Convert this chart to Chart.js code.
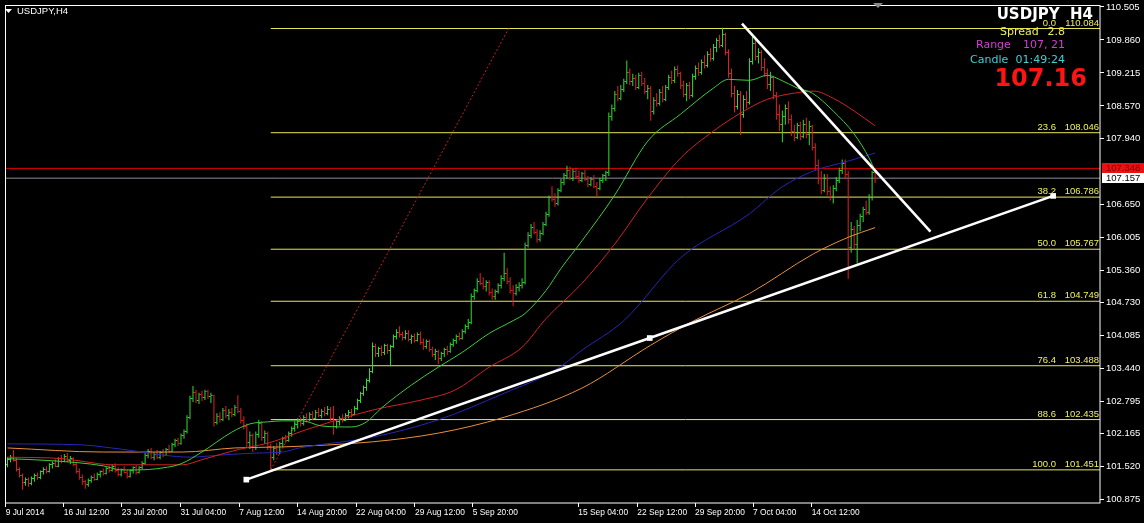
<!DOCTYPE html>
<html>
<head>
<meta charset="utf-8">
<title>USDJPY,H4</title>
<script src="https://cdn.jsdelivr.net/npm/chart.js@4.4.1/dist/chart.umd.min.js"></script>
<style>
  html, body { margin: 0; padding: 0; background: #000; }
  #wrap { width: 1144px; height: 523px; }
</style>
</head>
<body>
<div id="wrap"><canvas id="chart" width="1144" height="523"></canvas></div>
<script>
// H4 bars, one row per bar: [open, high, low, close]
const candles = [
  [101.55,101.70,101.50,101.66],[101.66,101.74,101.60,101.70],[101.70,101.84,101.62,101.64],[101.64,101.68,101.42,101.46],[101.46,101.50,101.30,101.34],
  [101.34,101.38,101.06,101.20],[101.20,101.30,101.14,101.26],[101.26,101.30,101.12,101.18],[101.18,101.32,101.15,101.29],[101.29,101.38,101.22,101.34],
  [101.34,101.40,101.26,101.30],[101.30,101.44,101.27,101.41],[101.41,101.50,101.36,101.46],[101.46,101.52,101.38,101.42],[101.42,101.58,101.40,101.55],
  [101.55,101.62,101.48,101.58],[101.58,101.66,101.50,101.52],[101.52,101.70,101.50,101.67],[101.67,101.74,101.58,101.62],[101.62,101.76,101.60,101.72],
  [101.72,101.78,101.60,101.64],[101.64,101.72,101.56,101.68],[101.68,101.70,101.52,101.55],[101.55,101.60,101.38,101.42],[101.42,101.48,101.26,101.30],
  [101.30,101.36,101.16,101.22],[101.22,101.26,101.08,101.16],[101.16,101.28,101.12,101.25],[101.25,101.34,101.20,101.30],[101.30,101.38,101.24,101.27],
  [101.27,101.40,101.25,101.37],[101.37,101.44,101.30,101.41],[101.41,101.48,101.34,101.38],[101.38,101.50,101.36,101.47],[101.47,101.54,101.40,101.44],
  [101.44,101.56,101.42,101.52],[101.52,101.58,101.40,101.43],[101.43,101.50,101.32,101.36],[101.36,101.48,101.32,101.45],[101.45,101.52,101.38,101.40],
  [101.40,101.46,101.28,101.33],[101.33,101.46,101.30,101.43],[101.43,101.52,101.38,101.49],[101.49,101.54,101.36,101.40],[101.40,101.52,101.38,101.50],
  [101.50,101.62,101.46,101.58],[101.58,101.78,101.55,101.74],[101.74,101.86,101.68,101.82],[101.82,101.88,101.66,101.70],[101.70,101.80,101.64,101.76],
  [101.76,101.84,101.66,101.69],[101.69,101.82,101.66,101.79],[101.79,101.86,101.70,101.74],[101.74,101.88,101.72,101.85],[101.85,101.94,101.78,101.82],
  [101.82,101.98,101.80,101.95],[101.95,102.06,101.90,102.02],[102.02,102.08,101.92,101.96],[101.96,102.16,101.94,102.12],[102.12,102.24,102.06,102.20],
  [102.20,102.52,102.16,102.48],[102.48,102.90,102.44,102.84],[102.84,103.09,102.78,102.96],[102.96,103.02,102.76,102.80],[102.80,102.96,102.74,102.92],
  [102.92,103.00,102.80,102.86],[102.86,103.02,102.82,102.98],[102.98,103.02,102.84,102.88],[102.88,102.96,102.76,102.90],[102.90,102.92,102.30,102.38],
  [102.38,102.56,102.34,102.50],[102.50,102.58,102.38,102.44],[102.44,102.66,102.40,102.62],[102.62,102.70,102.46,102.52],[102.52,102.64,102.42,102.58],
  [102.58,102.66,102.48,102.54],[102.54,102.72,102.50,102.68],[102.68,102.91,102.56,102.60],[102.60,102.66,102.36,102.42],[102.42,102.50,102.24,102.30],
  [102.30,102.36,101.90,101.98],[101.98,102.20,101.86,102.12],[102.12,102.16,101.80,101.88],[101.88,102.20,101.84,102.14],[102.14,102.43,102.08,102.36],
  [102.36,102.40,102.02,102.08],[102.08,102.22,101.96,102.16],[102.16,102.20,101.84,101.90],[101.90,101.96,101.45,101.70],[101.70,101.92,101.64,101.86],
  [101.86,101.98,101.74,101.80],[101.80,102.00,101.76,101.96],[101.96,102.10,101.90,102.06],[102.06,102.14,101.98,102.02],[102.02,102.20,102.00,102.16],
  [102.16,102.30,102.10,102.26],[102.26,102.40,102.20,102.34],[102.34,102.46,102.26,102.40],[102.40,102.48,102.30,102.36],[102.36,102.52,102.32,102.48],
  [102.48,102.56,102.38,102.44],[102.44,102.58,102.40,102.54],[102.54,102.60,102.42,102.46],[102.46,102.62,102.44,102.58],[102.58,102.66,102.48,102.52],
  [102.52,102.64,102.46,102.60],[102.60,102.68,102.50,102.56],[102.56,102.70,102.52,102.64],[102.64,102.68,102.40,102.46],[102.46,102.70,102.14,102.30],
  [102.30,102.44,102.26,102.40],[102.40,102.50,102.32,102.46],[102.46,102.54,102.38,102.42],[102.42,102.56,102.40,102.52],[102.52,102.62,102.46,102.58],
  [102.58,102.64,102.48,102.54],[102.54,102.70,102.52,102.66],[102.66,102.84,102.62,102.80],[102.80,102.98,102.76,102.94],[102.94,103.10,102.90,103.06],
  [103.06,103.24,103.00,103.20],[103.20,103.44,103.16,103.38],[103.38,103.94,103.34,103.86],[103.86,103.92,103.66,103.72],[103.72,103.86,103.66,103.82],
  [103.82,103.88,103.68,103.74],[103.74,103.92,103.70,103.88],[103.88,103.92,103.72,103.78],[103.78,103.90,103.48,103.86],[103.86,104.10,103.84,104.06],
  [104.06,104.20,104.00,104.14],[104.14,104.26,104.04,104.10],[104.10,104.16,103.98,104.04],[104.04,104.18,104.00,104.12],[104.12,104.18,103.96,104.00],
  [104.00,104.10,103.92,104.06],[104.06,104.12,103.94,103.98],[103.98,104.14,103.96,104.10],[104.10,104.16,103.90,103.94],[103.94,104.02,103.80,103.86],
  [103.86,104.00,103.82,103.96],[103.96,104.00,103.76,103.80],[103.80,103.86,103.66,103.70],[103.70,103.82,103.60,103.76],[103.76,103.80,103.52,103.62],
  [103.62,103.76,103.58,103.72],[103.72,103.84,103.66,103.80],[103.80,103.88,103.70,103.76],[103.76,103.94,103.74,103.90],[103.90,104.02,103.86,103.98],
  [103.98,104.10,103.92,104.06],[104.06,104.14,103.98,104.02],[104.02,104.20,104.00,104.16],[104.16,104.30,104.12,104.26],[104.26,104.40,104.20,104.34],
  [104.34,104.90,104.30,104.84],[104.84,105.00,104.78,104.96],[104.96,105.20,104.92,105.14],[105.14,105.30,105.06,105.10],[105.10,105.22,104.98,105.04],
  [105.04,105.16,104.94,105.12],[105.12,105.16,104.86,104.92],[104.92,105.00,104.78,104.84],[104.84,104.98,104.78,104.94],[104.94,105.10,104.90,105.06],
  [105.06,105.26,105.00,105.20],[105.20,105.70,105.14,105.30],[105.30,105.40,105.08,105.14],[105.14,105.22,104.90,104.96],[104.96,105.06,104.65,104.90],
  [104.90,105.08,104.86,105.02],[105.02,105.12,104.94,105.06],[105.06,105.20,105.00,105.12],[105.12,105.90,105.08,105.84],[105.84,106.10,105.80,106.04],
  [106.04,106.26,105.98,106.20],[106.20,106.30,106.06,106.10],[106.10,106.16,105.90,105.96],[105.96,106.14,105.92,106.08],[106.08,106.30,106.04,106.26],
  [106.26,106.50,106.22,106.44],[106.44,106.82,106.40,106.78],[106.78,107.00,106.70,106.74],[106.74,106.86,106.60,106.66],[106.66,106.96,106.62,106.92],
  [106.92,107.14,106.88,107.08],[107.08,107.26,107.02,107.20],[107.20,107.40,107.14,107.30],[107.30,107.38,107.12,107.16],[107.16,107.34,107.10,107.28],
  [107.28,107.36,107.14,107.18],[107.18,107.30,107.06,107.12],[107.12,107.28,107.08,107.24],[107.24,107.32,107.10,107.14],[107.14,107.20,106.98,107.04],
  [107.04,107.18,107.00,107.14],[107.14,107.22,106.96,107.00],[107.00,107.08,106.80,106.96],[106.96,107.16,106.92,107.12],[107.12,107.24,107.06,107.20],
  [107.20,107.30,107.10,107.26],[107.26,108.44,107.20,108.36],[108.36,108.60,108.28,108.52],[108.52,108.86,108.46,108.80],[108.80,108.96,108.66,108.72],
  [108.72,108.98,108.68,108.90],[108.90,109.10,108.84,109.04],[109.04,109.46,109.00,109.22],[109.22,109.30,108.98,109.04],[109.04,109.20,108.96,109.10],
  [109.10,109.18,108.88,108.94],[108.94,109.22,108.90,109.16],[109.16,109.24,108.96,109.00],[109.00,109.12,108.80,108.86],[108.86,108.98,108.70,108.92],
  [108.92,108.96,108.28,108.46],[108.46,108.74,108.40,108.68],[108.68,108.82,108.56,108.62],[108.62,108.90,108.58,108.84],[108.84,108.96,108.64,108.70],
  [108.70,108.98,108.66,108.94],[108.94,109.18,108.88,109.12],[109.12,109.26,109.00,109.06],[109.06,109.34,109.02,109.28],[109.28,109.36,109.14,109.20],
  [109.20,109.24,108.90,108.96],[108.96,109.06,108.74,108.80],[108.80,109.02,108.66,108.96],[108.96,109.04,108.70,108.78],[108.78,109.20,108.74,109.14],
  [109.14,109.36,109.08,109.30],[109.30,109.42,109.16,109.22],[109.22,109.48,109.18,109.42],[109.42,109.56,109.30,109.36],[109.36,109.64,109.32,109.58],
  [109.58,109.70,109.44,109.50],[109.50,109.78,109.46,109.72],[109.72,109.90,109.62,109.84],[109.84,109.96,109.70,109.76],[109.76,110.10,109.72,109.96],
  [109.96,110.00,109.56,109.62],[109.62,109.68,109.12,109.20],[109.20,109.30,108.74,108.82],[108.82,108.96,108.44,108.56],[108.56,108.88,108.50,108.80],
  [108.80,108.86,108.00,108.40],[108.40,108.78,108.34,108.70],[108.70,108.86,108.52,108.64],[108.64,109.50,108.60,109.44],[109.44,109.92,109.38,109.80],
  [109.80,109.88,109.46,109.54],[109.54,109.70,109.40,109.62],[109.62,109.66,109.26,109.32],[109.32,109.50,109.14,109.20],[109.20,109.30,108.90,108.98],
  [108.98,109.24,108.86,109.12],[109.12,109.16,108.70,108.78],[108.78,108.84,108.30,108.40],[108.40,108.60,108.08,108.20],[108.20,108.48,107.86,108.36],
  [108.36,108.60,108.20,108.52],[108.52,108.66,108.22,108.30],[108.30,108.40,107.98,108.06],[108.06,108.20,107.88,107.96],[107.96,108.24,107.92,108.18],
  [108.18,108.26,107.90,107.98],[107.98,108.30,107.94,108.20],[108.20,108.34,107.94,108.02],[108.02,108.28,107.80,108.16],[108.16,108.20,107.70,107.76],
  [107.76,107.84,107.30,107.40],[107.40,107.52,107.04,107.16],[107.16,107.30,106.84,106.92],[106.92,107.24,106.88,107.16],[107.16,107.24,106.82,106.90],
  [106.90,107.00,106.72,106.80],[106.80,107.02,106.66,106.96],[106.96,107.18,106.90,107.12],[107.12,107.36,107.06,107.30],[107.30,107.52,107.24,107.44],
  [107.44,107.52,107.14,107.22],[107.22,107.30,105.19,105.80],[105.80,106.30,105.70,106.16],[106.16,106.22,105.76,105.86],[105.86,106.34,105.49,106.24],
  [106.24,106.46,106.12,106.40],[106.40,106.60,106.30,106.54],[106.54,106.72,106.44,106.48],[106.48,106.84,106.44,106.78],[106.78,107.30,106.72,107.26],
  [107.26,107.30,107.06,107.16]
];

// moving averages: [bar index, price]
const maFast = [[0,101.67],[15,101.63],[32,101.53],[38,101.45],[43,101.45],[52,101.49],[58,101.57],[65,101.80],[75,102.19],[81,102.35],
  [87,102.39],[92,102.41],[98.5,102.41],[105,102.31],[115,102.29],[120,102.39],[125,102.66],[135,103.11],[144,103.46],[152,103.75],
  [161,104.12],[169,104.37],[173,104.51],[180,104.96],[185,105.39],[192,105.93],[203,106.83],[214,107.88],[225,108.41],[236,108.92],
  [241,109.09],[248,109.07],[254,109.17],[258,109.09],[264,108.92],[269,108.82],[276,108.47],[283,108.02],[288,107.55],[290,107.30]];
const maMid = [[0,101.70],[18.5,101.67],[26,101.61],[35,101.55],[58.5,101.55],[65,101.65],[74,101.80],[81,101.90],[87.5,101.98],[99.5,102.23],
  [122,102.62],[138.5,102.82],[149.5,103.01],[161,103.46],[172,103.85],[180,104.41],[192,105.10],[203,105.87],[214,106.77],[225,107.55],
  [236,108.08],[245,108.43],[254,108.70],[263,108.82],[269.5,108.86],[276,108.72],[283,108.47],[290,108.18]];
const maSlow = [[0,101.96],[25,101.94],[32,101.90],[45,101.80],[52,101.74],[61,101.70],[71,101.74],[83,101.78],[92,101.80],[97.5,101.88],
  [122,102.09],[144,102.43],[166,102.95],[183,103.40],[192,103.79],[206,104.37],[225,105.60],[248,106.46],[258.5,106.97],[269.5,107.30],
  [281,107.49],[290,107.65]];
const maLong = [[0,101.88],[32,101.80],[58.5,101.80],[76,101.88],[92,101.90],[122,102.00],[144,102.17],[166,102.48],[192,103.05],[215,103.89],
  [229.5,104.37],[248,104.90],[269.5,105.68],[281,106.00],[290,106.19]];

// Fibonacci retracement
const fibLevels = ['0.0', '23.6', '38.2', '50.0', '61.8', '76.4', '88.6', '100.0'];
const fibPrices = [110.084, 108.046, 106.786, 105.767, 104.749, 103.488, 102.435, 101.451];
const fibAnchor = [[88, 101.451], [167.5, 110.084]];

// trend lines
const trendUp = [[79.83, 101.26], [214.67, 104.03], [349.5, 106.81]];
const trendDown = [[245.5, 110.18], [308.5, 106.11]];

const redLevel = 107.348;
const bidLevel = 107.157;

// axes
const yTicks = [110.505, 109.860, 109.215, 108.570, 107.940, 106.650, 106.005, 105.360, 104.730, 104.085, 103.440, 102.795, 102.165, 101.520, 100.875];
const xTickIdx = [-0.6, 18.8, 38.2, 57.8, 77.5, 96.8, 116.5, 136.2, 155.5, 190.8, 210.5, 229.8, 249.2, 268.8];
const xTickText = ['9 Jul 2014', '16 Jul 12:00', '23 Jul 20:00', '31 Jul 04:00', '7 Aug 12:00', '14 Aug 20:00', '22 Aug 04:00',
  '29 Aug 12:00', '5 Sep 20:00', '15 Sep 04:00', '22 Sep 12:00', '29 Sep 20:00', '7 Oct 04:00', '14 Oct 12:00'];

const X_MIN = -0.8333, X_MAX = 365.1667;
const Y_MIN = 100.803, Y_MAX = 110.544;

const UP = '#33dd33', DOWN = '#dd2222', FIB = '#e6e650', FIB_TEXT = '#f0f060';
const AXIS_FONT = { family: '"Liberation Sans", Arial, sans-serif', size: 9.5 };
const DATE_FONT = { family: '"Liberation Sans", Arial, sans-serif', size: 8.4 };

function tickImage(color, side) {
    const cv = document.createElement('canvas');
    cv.width = 3; cv.height = 1;
    const g = cv.getContext('2d');
    g.fillStyle = color;
    g.fillRect(side === 'open' ? 0 : 2, 0, 1, 1);
    return cv;
}
const imgs = {
    upOpen: tickImage(UP, 'open'), upClose: tickImage(UP, 'close'),
    dnOpen: tickImage(DOWN, 'open'), dnClose: tickImage(DOWN, 'close')
};

const isUp = candles.map(c => c[3] >= c[0]);
const toXY = arr => arr.map(p => ({ x: p[0], y: p[1] }));

function hLine(price, from, color, order) {
    return {
        type: 'line', data: [{ x: from, y: price }, { x: X_MAX, y: price }],
        borderColor: color, borderWidth: 1, pointRadius: 0, order: order
    };
}
function maLine(points, color) {
    return {
        type: 'line', data: toXY(points), borderColor: color, borderWidth: 1,
        pointRadius: 0, cubicInterpolationMode: 'monotone', order: 1
    };
}

const datasets = [
    {
        type: 'line', data: toXY(trendUp), borderColor: '#ffffff', borderWidth: 2.6,
        pointStyle: 'rect', pointRadius: 4, pointBorderWidth: 0, pointBackgroundColor: '#ffffff', order: 0
    },
    { type: 'line', data: toXY(trendDown), borderColor: '#ffffff', borderWidth: 2.6, pointRadius: 0, order: 0 },
    maLine(maFast, '#3ccc3c'),
    maLine(maMid, '#d02424'),
    maLine(maSlow, '#2626b8'),
    maLine(maLong, '#e8903c'),
    {
        type: 'line', showLine: false, order: 2, pointRadius: 1,
        data: candles.map((c, i) => ({ x: i, y: c[0] })),
        pointStyle: isUp.map(u => u ? imgs.upOpen : imgs.dnOpen)
    },
    {
        type: 'line', showLine: false, order: 2, pointRadius: 1,
        data: candles.map((c, i) => ({ x: i, y: c[3] })),
        pointStyle: isUp.map(u => u ? imgs.upClose : imgs.dnClose)
    },
    {
        type: 'bar', order: 3, barThickness: 1, inflateAmount: 0, borderWidth: 0,
        data: candles.map((c, i) => ({ x: i, y: [c[2], c[1]] })),
        backgroundColor: isUp.map(u => u ? UP : DOWN)
    },
    {
        type: 'line', data: toXY(fibAnchor), borderColor: '#c02020', borderWidth: 1,
        borderDash: [2, 2], pointRadius: 0, order: 4
    },
    hLine(redLevel, X_MIN, '#e00000', 4),
    hLine(bidLevel, X_MIN, '#8c8c9c', 4),
    ...fibPrices.map(p => hLine(p, fibAnchor[0][0], FIB, 5))
];

const overlay = {
    id: 'overlay',
    beforeDraw(chart) {
        const g = chart.ctx;
        g.save();
        g.fillStyle = '#000';
        g.fillRect(0, 0, chart.width, chart.height);
        g.restore();
    },
    afterDraw(chart) {
        const g = chart.ctx, a = chart.chartArea, ys = chart.scales.y;
        g.save();

        // chart frame
        g.strokeStyle = '#ffffff';
        g.lineWidth = 1;
        g.strokeRect(a.left + 0.5, a.top + 0.5, a.right - a.left - 0.5, a.bottom - a.top - 0.5);

        // price labels on the axis
        const box = (v, bg, fg) => {
            const y = Math.round(ys.getPixelForValue(v));
            g.fillStyle = bg;
            g.fillRect(a.right + 2, y - 5, chart.width - a.right - 2, 10);
            g.fillStyle = fg;
            g.font = '9.5px "Liberation Sans", Arial, sans-serif';
            g.textAlign = 'left';
            g.textBaseline = 'middle';
            g.fillText(v.toFixed(3), a.right + 6, y + 0.5);
        };
        box(redLevel, '#ee1010', '#7a0000');
        box(bidLevel, '#ffffff', '#000000');

        // info block, top right
        g.textBaseline = 'alphabetic';
        g.font = 'bold 15px "DejaVu Sans", Verdana, sans-serif';
        g.fillStyle = '#ffffff';
        g.textAlign = 'right';
        g.fillText('USDJPY  H4', 1093, 19);

        g.font = '11px "DejaVu Sans", Verdana, sans-serif';
        const info = [['Spread', '2.8', '#eeee55', 1000, 35], ['Range', '107, 21', '#d040d0', 976, 48], ['Candle', '01:49:24', '#40d0d0', 970, 63]];
        info.forEach(([k, v, col, x0, y0]) => {
            g.fillStyle = col;
            g.textAlign = 'left';
            g.fillText(k, x0, y0);
            g.textAlign = 'right';
            g.fillText(v, 1065, y0);
        });
        g.font = 'bold 24px "DejaVu Sans", Verdana, sans-serif';
        g.fillStyle = '#ff1414';
        g.fillText('107.16', 1087, 86);

        // fibo level captions
        g.font = '9.5px "Liberation Sans", Arial, sans-serif';
        g.fillStyle = FIB_TEXT;
        g.textAlign = 'right';
        fibLevels.forEach((lv, k) => {
            const y = ys.getPixelForValue(fibPrices[k]) - 3;
            g.fillText(lv, a.right - 44, y);
            g.fillText(fibPrices[k].toFixed(3), a.right - 1, y);
        });

        // symbol caption, top left
        g.fillStyle = '#ffffff';
        g.beginPath();
        g.moveTo(5, 9); g.lineTo(12, 9); g.lineTo(8.5, 13); g.closePath();
        g.fill();
        g.textAlign = 'left';
        g.textBaseline = 'middle';
        g.fillText('USDJPY,H4', 17, 11);

        // chart shift marker
        g.fillStyle = '#8a8a8a';
        g.beginPath();
        g.moveTo(873, 3); g.lineTo(883, 3); g.lineTo(878, 8); g.closePath();
        g.fill();

        g.restore();
    }
};

new Chart(document.getElementById('chart'), {
    type: 'line',
    data: { datasets: datasets },
    options: {
        responsive: false,
        animation: false,
        events: [],
        layout: { padding: { left: 2, top: 3, right: 0, bottom: 0 } },
        plugins: { legend: { display: false }, tooltip: { enabled: false } },
        scales: {
            x: {
                type: 'linear', position: 'bottom', min: X_MIN, max: X_MAX, offset: false, bounds: 'data',
                afterBuildTicks: s => { s.ticks = xTickIdx.map(v => ({ value: v })); },
                afterFit: s => { s.height = 20; s.paddingLeft = 0; s.paddingRight = 0; },
                grid: { display: true, drawOnChartArea: false, drawTicks: true, tickLength: 4, color: '#ffffff', offset: false },
                border: { display: false },
                ticks: {
                    color: '#ffffff', font: DATE_FONT, padding: 1, maxRotation: 0, autoSkip: false, align: 'start',
                    callback: (v, i) => xTickText[i]
                }
            },
            y: {
                type: 'linear', position: 'right', min: Y_MIN, max: Y_MAX, bounds: 'data',
                afterBuildTicks: s => { s.ticks = yTicks.map(v => ({ value: v })); },
                afterFit: s => { s.width = 44; s.paddingTop = 0; s.paddingBottom = 0; },
                grid: { display: true, drawOnChartArea: false, drawTicks: true, tickLength: 4, color: '#ffffff' },
                border: { display: false },
                ticks: { color: '#ffffff', font: AXIS_FONT, padding: 2, autoSkip: false, callback: v => v.toFixed(3) }
            }
        }
    },
    plugins: [overlay]
});
</script>
</body>
</html>
